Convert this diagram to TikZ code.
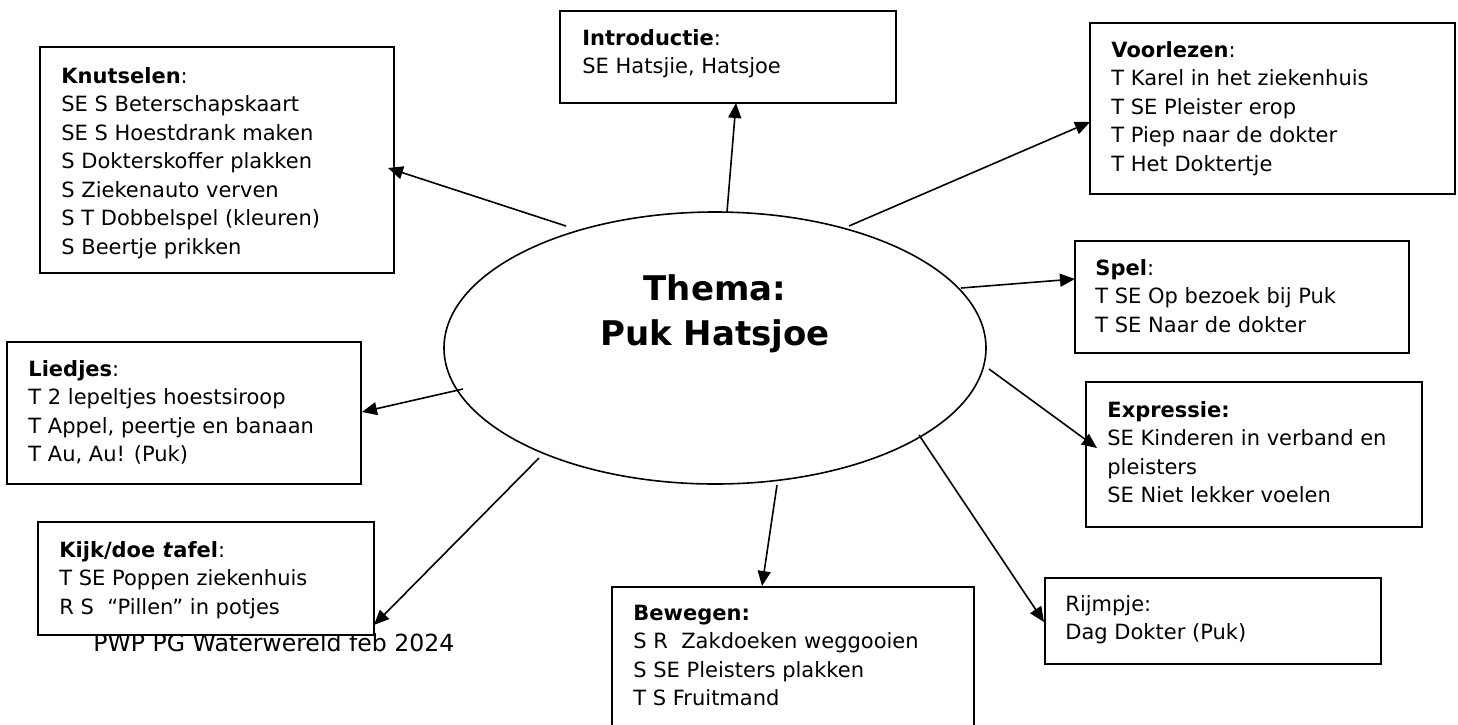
\documentclass[tikz,border=0pt]{standalone}
\usepackage{fontspec}
\setmainfont{DejaVu Sans}
\usetikzlibrary{arrows.meta,shapes.geometric,fit}
\tikzset{
  box/.style={draw, line width=1pt, fill=white, inner sep=0pt},
  txt/.style={anchor=base west, inner sep=0pt, font=\fontsize{10.5}{14.25}\selectfont},
  arr/.style={line width=0.8pt, -{Triangle[length=7.5pt,width=6.5pt]}},
}
\newcommand{\lines}[1]{\begin{tabular}[t]{@{}l@{}}#1\end{tabular}}
\begin{document}
\begin{tikzpicture}[x=0.5pt,y=-0.5pt]
\useasboundingbox (0,0) rectangle (1458,724);
\clip (0,0) rectangle (1458,724);
% footer (partly hidden by the Kijk/doe box)
\node[anchor=base west, inner sep=0pt, font=\fontsize{11.8}{14}\selectfont] (footer) at (93,651) {PWP PG Waterwereld feb 2024};
% boxes
\coordinate (k1) at (40,47);    \coordinate (k2) at (394,273);
\coordinate (i1) at (560,11);   \coordinate (i2) at (896,103);
\coordinate (v1) at (1090,23);  \coordinate (v2) at (1455,194);
\coordinate (s1) at (1075,241); \coordinate (s2) at (1409,353);
\coordinate (e1) at (1086,382); \coordinate (e2) at (1422,527);
\coordinate (r1) at (1045,578); \coordinate (r2) at (1381,664);
\coordinate (b1) at (612,587);  \coordinate (b2) at (974,760);
\coordinate (l1) at (7,342);    \coordinate (l2) at (361,484);
\coordinate (j1) at (38,522);   \coordinate (j2) at (374,635);
\node[box, fit=(k1)(k2)] (knut) {};
\node[box, fit=(i1)(i2)] (intro) {};
\node[box, fit=(v1)(v2)] (voor) {};
\node[box, fit=(s1)(s2)] (spel) {};
\node[box, fit=(e1)(e2)] (expr) {};
\node[box, fit=(r1)(r2)] (rijm) {};
\node[box, fit=(b1)(b2)] (bew) {};
\node[box, fit=(l1)(l2)] (lied) {};
\node[box, fit=(j1)(j2)] (kijk) {};
% texts
\node[txt] (knutT) at (61,83) {\lines{\textbf{Knutselen}:\\SE S Beterschapskaart\\SE S Hoestdrank maken\\S Dokterskoffer plakken\\S Ziekenauto verven\\S T Dobbelspel (kleuren)\\S Beertje prikken}};
\node[txt] (introT) at (582,45) {\lines{\textbf{Introductie}:\\SE Hatsjie, Hatsjoe}};
\node[txt] (voorT) at (1111,57) {\lines{\textbf{Voorlezen}:\\T Karel in het ziekenhuis\\T SE Pleister erop\\T Piep naar de dokter\\T Het Doktertje}};
\node[txt] (spelT) at (1095,275) {\lines{\textbf{Spel}:\\T SE Op bezoek bij Puk\\T SE Naar de dokter}};
\node[txt] (exprT) at (1107,417) {\lines{\textbf{Expressie:}\\SE Kinderen in verband en\\pleisters\\SE Niet lekker voelen}};
\node[txt] (rijmT) at (1065,611) {\lines{Rijmpje:\\Dag Dokter (Puk)}};
\node[txt] (bewT) at (633,620) {\lines{\textbf{Bewegen:}\\S R~ Zakdoeken weggooien\\S SE Pleisters plakken\\T S Fruitmand}};
\node[txt] (liedT) at (28,376) {\lines{\textbf{Liedjes}:\\T 2 lepeltjes hoestsiroop\\T Appel, peertje en banaan\\T Au, Au! (Puk)}};
\node[txt] (kijkT) at (59,557) {\lines{\textbf{Kijk/doe \textit{t}afel}:\\T SE Poppen ziekenhuis\\R S~ “Pillen” in potjes}};
% central ellipse
\node[draw, ellipse, line width=0.8pt, minimum width=271pt, minimum height=136pt, inner sep=0pt] (thema) at (715,348) {};
\node[anchor=base, inner sep=0pt, font=\bfseries\fontsize{17}{22.5}\selectfont] (themaT) at (715,300) {\begin{tabular}[t]{@{}c@{}}Thema:\\Puk Hatsjoe\end{tabular}};
% connector ends
\coordinate (aK) at (566,226);   \coordinate (tK) at (388,168);
\coordinate (aI) at (727,212);   \coordinate (tI) at (736,103);
\coordinate (aV) at (849,226);   \coordinate (tV) at (1090,122);
\coordinate (aS) at (961,288);   \coordinate (tS) at (1075,279);
\coordinate (aE) at (989,369);   \coordinate (tE) at (1097,448);
\coordinate (aR) at (919,435);   \coordinate (tR) at (1044,622);
\coordinate (aB) at (777,485);   \coordinate (tB) at (762,586);
\coordinate (aJ) at (539,458);   \coordinate (tJ) at (374,625);
\coordinate (aL) at (463,389);   \coordinate (tL) at (362,412);
\draw[arr] (aK) -- (tK);
\draw[arr] (aI) -- (tI);
\draw[arr] (aV) -- (tV);
\draw[arr] (aS) -- (tS);
\draw[arr] (aE) -- (tE);
\draw[arr] (aR) -- (tR);
\draw[arr] (aB) -- (tB);
\draw[arr] (aJ) -- (tJ);
\draw[arr] (aL) -- (tL);
\end{tikzpicture}
\end{document}
